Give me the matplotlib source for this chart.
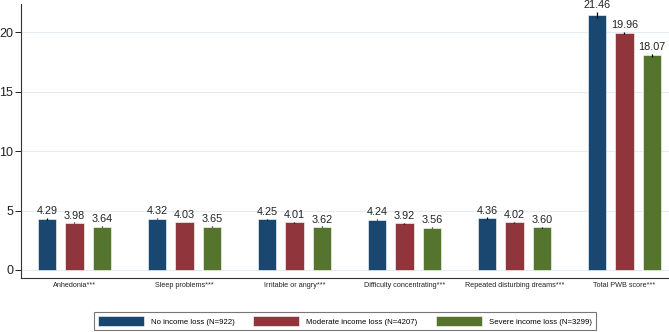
"""Grouped bar chart: PWB item scores by income-loss group."""

import matplotlib

matplotlib.use("Agg")
import matplotlib.pyplot as plt
import numpy as np

plt.rcParams["font.family"] = ["Liberation Sans", "DejaVu Sans"]

categories = [
    "Anhedonia***",
    "Sleep problems***",
    "Irritable or angry***",
    "Difficulty concentrating***",
    "Repeated disturbing dreams***",
    "Total PWB score***",
]
groups = [
    "No income loss (N=922)",
    "Moderate income loss (N=4207)",
    "Severe income loss (N=3299)",
]
no_loss = [4.29, 4.32, 4.25, 4.24, 4.36, 21.46]
moderate_loss = [3.98, 4.03, 4.01, 3.92, 4.02, 19.96]
severe_loss = [3.64, 3.65, 3.62, 3.56, 3.60, 18.07]
# rough 95% CI half-widths
no_loss_err = [0.07, 0.07, 0.07, 0.07, 0.07, 0.28]
moderate_loss_err = [0.03, 0.03, 0.03, 0.03, 0.03, 0.12]
severe_loss_err = [0.04, 0.04, 0.04, 0.04, 0.04, 0.15]

colors = ["#1a476f", "#90353b", "#55752f"]

fig = plt.figure(figsize=(6.69, 3.32), dpi=100)
ax = fig.add_axes([0.0314, 0.163, 0.9686, 0.825])

x = np.arange(len(categories))
step = 0.25
width = 0.165
series = [
    (no_loss, no_loss_err),
    (moderate_loss, moderate_loss_err),
    (severe_loss, severe_loss_err),
]
for i, ((vals, errs), color, label) in enumerate(zip(series, colors, groups)):
    pos = x + (i - 1) * step
    ax.bar(pos, vals, width, color=color, edgecolor="white", linewidth=0.4,
           label=label, zorder=2)
    ax.errorbar(pos, vals, yerr=errs, fmt="none", ecolor="black",
                elinewidth=0.9, capsize=0, zorder=3)
    for p, v, e in zip(pos, vals, errs):
        ax.text(p, v + e + 0.15, f"{v:.2f}", ha="center", va="bottom",
                fontsize=7.8, color="#222222")

ax.set_xlim(-0.486, 5.405)
ax.set_ylim(-0.67, 22.4)
ax.set_yticks([0, 5, 10, 15, 20])
ax.yaxis.grid(True, color="#e4edf0", linewidth=0.8, zorder=0)
ax.set_axisbelow(True)
ax.set_xticks(x)
ax.set_xticklabels(categories, fontsize=5.2, color="#222222")
ax.tick_params(axis="x", length=0, pad=3)
ax.tick_params(axis="y", labelsize=9, length=4, width=0.7, pad=1.5,
               colors="#222222")
for side in ["top", "right"]:
    ax.spines[side].set_visible(False)
for side in ["left", "bottom"]:
    ax.spines[side].set_linewidth(0.8)
    ax.spines[side].set_color("#333333")

leg = fig.legend(loc="lower center", bbox_to_anchor=(0.5157, 0.006), ncol=3,
                 fontsize=5.6, frameon=True, fancybox=False,
                 handlelength=5.9, handleheight=1.5, columnspacing=2.4,
                 handletextpad=0.9, borderpad=0.55, borderaxespad=0)
leg.get_frame().set_edgecolor("#555555")
leg.get_frame().set_linewidth(0.8)

fig.savefig("out.png", dpi=100)
